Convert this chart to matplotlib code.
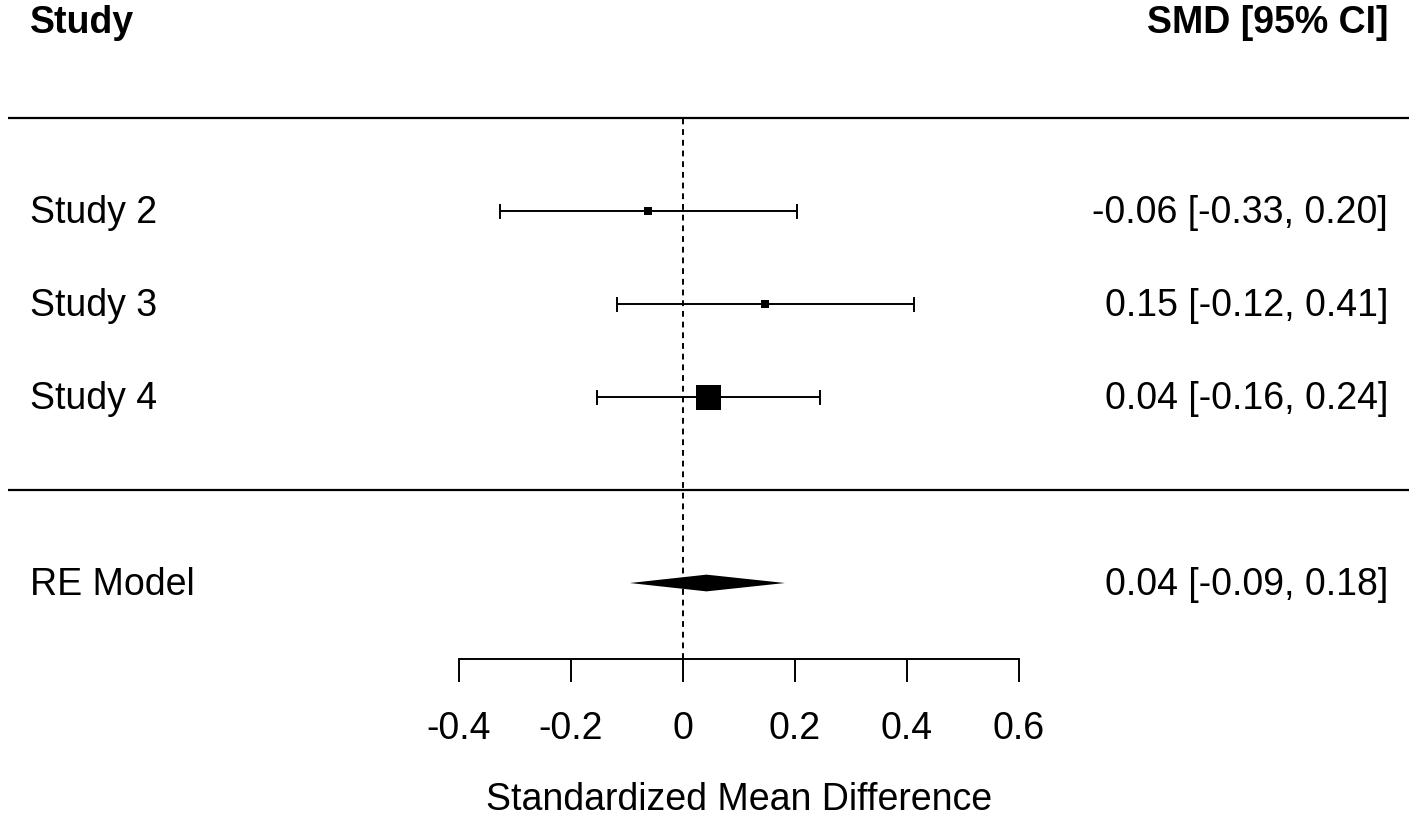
import matplotlib
matplotlib.use("Agg")
import matplotlib.pyplot as plt

# ---- data ----
studies = ["Study 2", "Study 3", "Study 4"]
estimates = [-0.062, 0.147, 0.044]
ci_lower = [-0.326, -0.118, -0.154]
ci_upper = [0.203, 0.413, 0.244]
est_labels = ["-0.06 [-0.33, 0.20]", "0.15 [-0.12, 0.41]", "0.04 [-0.16, 0.24]"]
re_label = "RE Model"
re_est = 0.042
re_lower = -0.095
re_upper = 0.182
re_text = "0.04 [-0.09, 0.18]"
xticks = [-0.4, -0.2, 0, 0.2, 0.4, 0.6]
xtick_labels = ["-0.4", "-0.2", "0", "0.2", "0.4", "0.6"]
xlabel = "Standardized Mean Difference"
header_left = "Study"
header_right = "SMD [95% CI]"

# ---- style ----
marker_sizes = [6.3, 6.3, 18.0]
FS = 27
plt.rcParams['font.family'] = ['Liberation Sans', 'DejaVu Sans']

fig = plt.figure(figsize=(14.18, 8.17), dpi=100)
ax = fig.add_axes([0, 0, 1, 1])
ax.set_xlim(-1.2196, 1.3125)
ax.set_ylim(-3.516, 5.269)

k = len(studies)
rows = list(range(k, 0, -1))  # 3,2,1
re_row = -1
axis_y = -1.817
x_left_text = -1.166
x_right_text = 1.259
txt_dy = 0.02

# separators
ax.plot([-1.205, 1.296], [k + 1, k + 1], color='black', lw=1.6, solid_capstyle='butt')
ax.plot([-1.205, 1.296], [0, 0], color='black', lw=1.6, solid_capstyle='butt')

# reference line
ax.plot([0, 0], [axis_y, k + 1], color='black', lw=1.4, linestyle=(0, (3, 2.5)))

# study CIs
cap = 0.07
for r, e, lo, hi, ms in zip(rows, estimates, ci_lower, ci_upper, marker_sizes):
    ax.plot([lo, hi], [r, r], color='black', lw=1.4, solid_capstyle='butt')
    ax.plot([lo, lo], [r - cap, r + cap], color='black', lw=1.4)
    ax.plot([hi, hi], [r - cap, r + cap], color='black', lw=1.4)
    ax.plot([e], [r], marker='s', markersize=ms, color='black', markeredgewidth=0)

# diamond
h = 0.09
ax.fill([re_lower, re_est, re_upper, re_est],
        [re_row, re_row + h, re_row, re_row - h], color='black', lw=0)

# texts
for r, s, lab in zip(rows, studies, est_labels):
    ax.text(x_left_text, r + txt_dy, s, fontsize=FS, ha='left', va='center_baseline')
    ax.text(x_right_text, r + txt_dy, lab, fontsize=FS, ha='right', va='center_baseline')
ax.text(x_left_text, re_row + txt_dy, re_label, fontsize=FS, ha='left', va='center_baseline')
ax.text(x_right_text, re_row + txt_dy, re_text, fontsize=FS, ha='right', va='center_baseline')
ax.text(x_left_text, k + 2.06, header_left, fontsize=FS, ha='left', va='center_baseline', fontweight='bold')
ax.text(x_right_text, k + 2.06, header_right, fontsize=FS, ha='right', va='center_baseline', fontweight='bold')

# axis
for side in ['left', 'right', 'top']:
    ax.spines[side].set_visible(False)
ax.spines['bottom'].set_position(('data', axis_y))
ax.spines['bottom'].set_bounds(-0.4, 0.6)
ax.spines['bottom'].set_linewidth(1.4)
ax.set_yticks([])
ax.set_xticks(xticks)
ax.set_xticklabels(xtick_labels, fontsize=FS)
ax.tick_params(axis='x', length=16.5, width=1.4, pad=21)
ax.text(0.101, -3.29, xlabel, fontsize=FS, ha='center', va='center_baseline')

fig.savefig("out.png", dpi=100)
